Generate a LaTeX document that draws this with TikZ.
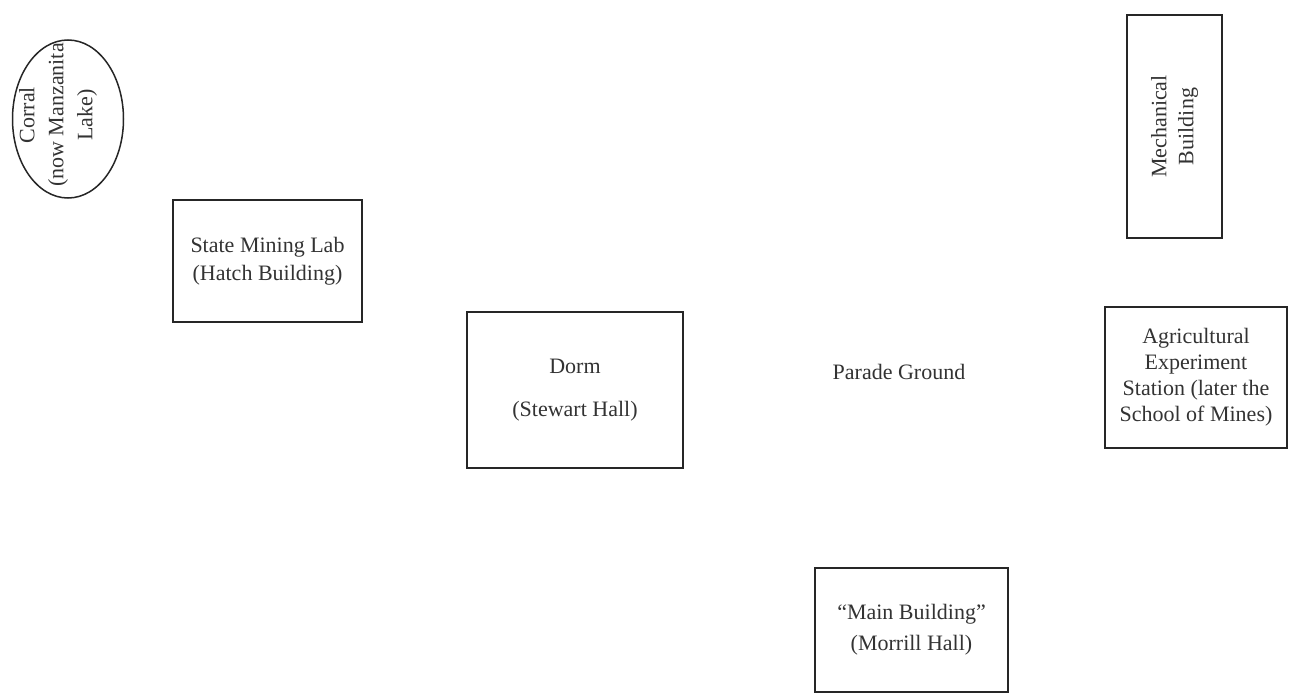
\documentclass[tikz,border=0pt]{standalone}
\usepackage{fontspec}
\setmainfont{Liberation Serif}
\usetikzlibrary{shapes.geometric}
\begin{document}
\begin{tikzpicture}[x=1pt,y=-1pt,
  bldg/.style={draw=black!85,line width=1.5pt,rectangle,inner sep=0pt,align=center,text=black!80},
  lbl/.style={inner sep=0pt,align=center,text=black!80},
  every node/.append style={font=\fontsize{22}{29}\selectfont}]
\useasboundingbox[fill=white] (0,0) rectangle (1290,698);
% Corral oval
\node[draw=black!85,line width=1.5pt,ellipse,minimum width=111pt,minimum height=158pt,inner sep=0pt] (corral) at (68,119) {};
\node[lbl,rotate=90] (corraltext) at (58,115) {Corral\\(now Manzanita\\Lake)};
% Mechanical Building
\node[bldg,minimum width=223pt,minimum height=95pt,rotate=90,font=\fontsize{22}{27}\selectfont] (mech) at (1174.5,126.5) {Mechanical\\Building};
% State Mining Lab
\node[bldg,minimum width=189pt,minimum height=122pt,font=\fontsize{22}{28}\selectfont] (mining) at (267.5,261) {State Mining Lab\\(Hatch Building)};
% Dorm
\node[bldg,minimum width=216pt,minimum height=156pt,font=\fontsize{22}{43}\selectfont] (dorm) at (575,390) {Dorm\\(Stewart Hall)};
% Parade Ground
\node[lbl] (parade) at (899,372) {Parade Ground};
% Agricultural Experiment Station
\node[bldg,minimum width=182pt,minimum height=141pt,font=\fontsize{22}{26}\selectfont] (agri) at (1196,377.5) {Agricultural\\Experiment\\Station (later the\\School of Mines)};
% Main Building
\node[bldg,minimum width=193pt,minimum height=124pt,font=\fontsize{22}{31}\selectfont] (main) at (911.5,630) {“Main Building”\\(Morrill Hall)};
\end{tikzpicture}
\end{document}
